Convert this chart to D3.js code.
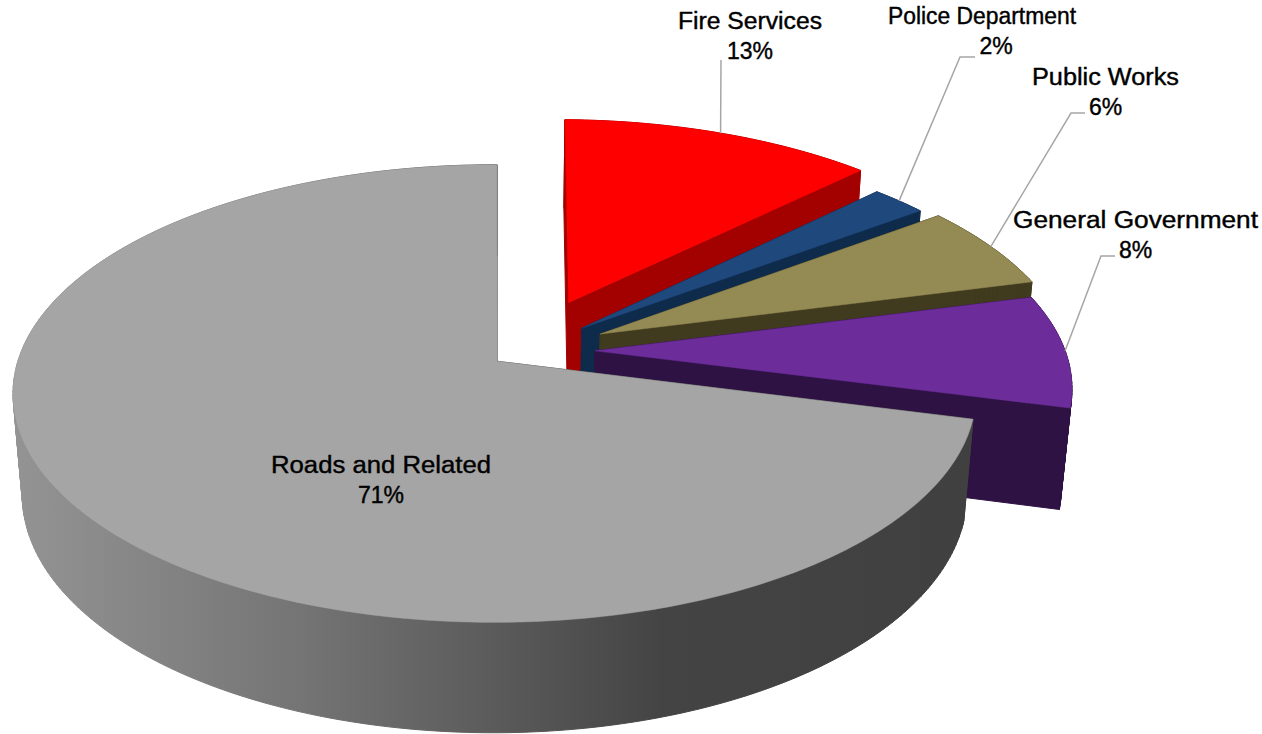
<!DOCTYPE html>
<html>
<head>
<meta charset="utf-8">
<script src="https://cdn.jsdelivr.net/npm/d3@7/dist/d3.min.js"></script>
<style>
  html, body { margin: 0; padding: 0; background: #fff; }
  svg { display: block; }
  text { font-family: "Liberation Sans", Arial, sans-serif; font-size: 23px; fill: #000; stroke: #000; stroke-width: 0.4px; text-anchor: middle; }
</style>
</head>
<body>
<svg id="chart" width="1262" height="734"></svg>
<script>
// Spending shares, clockwise from twelve o'clock
const categories = ["Fire Services", "Police Department", "Public Works", "General Government", "Roads and Related"];
const shares = [12.5, 2.2, 6.1, 8.1, 71.1];
// How far each wedge is pulled out of the pie, in pie radii
const explode = [0.245, 0.16, 0.178, 0.147, 0.076];
const topColors = ["#ff0000", "#1f497d", "#948a54", "#6c2d9a", "#a5a5a5"];
const wallColors = ["#a30000", "#0f2b4c", "#403a1e", "#2e1244", "url(#roadsWall)"];
// Where each label sits, how wide its name runs, and where its leader bends
const labelCenters = [[750, 29], [982, 24], [1105.5, 85], [1135.5, 228], [381, 473]];
const nameWidths = [144, 188, 147, 245, 220];
const shareOffsets = [0, 14, 0, 0, 0];
const leaderKnees = [null, [960, 57], [1071, 113], [1101, 256], null];
const leaderStarts = [[721, 60], [975, 57], [1085, 113], [1115, 256], null];

const svg = d3.select("#chart");

// Perspective view of the tilted disc: u runs right, v toward the viewer, z downward
const origin = { x: 497, y: 364 };
const scaleU = 477.5, scaleV = 225, scaleZ = 102;
const tiltK = 0.1416, yawK = 0.005, depthK = 0.019;
const pivot = { u: 0.06, v: -0.059 };

function project(u, v, z) {
  const w = 1 / (1 - tiltK * v + yawK * u + depthK * z);
  return [origin.x + scaleU * u * w, origin.y + (scaleV * v + scaleZ * z) * w];
}

const pie = d3.pie().sort(null).value(d => d).startAngle(0.012).endAngle(2 * Math.PI);
const arcs = pie(shares);

const wedges = arcs.map((a, i) => {
  const mid = (a.startAngle + a.endAngle) / 2;
  const cu = pivot.u + explode[i] * Math.sin(mid);
  const cv = pivot.v - explode[i] * Math.cos(mid);
  const steps = Math.max(6, Math.ceil((a.endAngle - a.startAngle) * 60));
  const angles = d3.range(steps + 1).map(s => a.startAngle + (a.endAngle - a.startAngle) * s / steps);
  const rim = (t, z) => project(cu + Math.sin(t), cv - Math.cos(t), z);
  return { i, mid, cu, cv, angles, rim, name: categories[i], share: a.value };
});

const defs = svg.append("defs");
const grad = defs.append("linearGradient")
  .attr("id", "roadsWall")
  .attr("gradientUnits", "userSpaceOnUse")
  .attr("x1", 20).attr("x2", 965).attr("y1", 0).attr("y2", 0);
[[0, "#939393"], [0.3, "#747474"], [0.5, "#5b5b5b"], [0.68, "#444444"], [1, "#404040"]]
  .forEach(([o, c]) => grad.append("stop").attr("offset", o).attr("stop-color", c));

const line = d3.line();
// Every facet wound the same way, so overlapping facets never cancel under nonzero fill
const facet = pts => line(d3.polygonArea(pts) < 0 ? pts.slice().reverse() : pts) + "Z";

// Wedges are painted back to front so nearer ones cover the walls behind them
const groups = svg.selectAll("g.wedge").data(wedges).join("g").attr("class", "wedge");

groups.each(function (d) {
  const g = d3.select(this);
  const apexTop = project(d.cu, d.cv, 0);
  const apexBot = project(d.cu, d.cv, 1);
  const fill = wallColors[d.i];
  const first = d.angles[0], last = d.angles[d.angles.length - 1];

  const wallFacets = [
    [apexTop, d.rim(first, 0), d.rim(first, 1), apexBot],
    [apexTop, d.rim(last, 0), d.rim(last, 1), apexBot]
  ];
  d3.pairs(d.angles).forEach(([a, b]) => {
    wallFacets.push([d.rim(a, 0), d.rim(b, 0), d.rim(b, 1), d.rim(a, 1)]);
  });
  g.append("path")
    .attr("d", wallFacets.map(facet).join(""))
    .attr("fill", fill).attr("stroke", fill).attr("stroke-width", 1);

  g.append("path")
    .attr("d", facet([apexTop].concat(d.angles.map(t => d.rim(t, 0)))))
    .attr("fill", topColors[d.i])
    .attr("stroke", topColors[d.i])
    .attr("stroke-width", 0.5);
});

// Leader lines from the rim of each wedge to its label
wedges.forEach(d => {
  if (!leaderStarts[d.i]) return;
  const end = d.rim(d.mid, 0);
  const pts = [leaderStarts[d.i]];
  if (leaderKnees[d.i]) pts.push(leaderKnees[d.i]);
  pts.push(end);
  svg.append("path").attr("d", line(pts))
    .attr("fill", "none").attr("stroke", "#a6a6a6").attr("stroke-width", 1.5);
});

// Two-line labels: name above, rounded share below
const pct = d3.format(".0f");
const labels = svg.selectAll("text.label").data(wedges).join("text")
  .attr("class", "label")
  .attr("transform", d => `translate(${labelCenters[d.i][0]},${labelCenters[d.i][1]})`);
labels.append("tspan").attr("x", 0).attr("y", 0)
  .attr("textLength", d => nameWidths[d.i])
  .attr("lengthAdjust", "spacingAndGlyphs")
  .text(d => d.name);
labels.append("tspan").attr("x", d => shareOffsets[d.i]).attr("y", 30).text(d => pct(d.share) + "%");
</script>
</body>
</html>
